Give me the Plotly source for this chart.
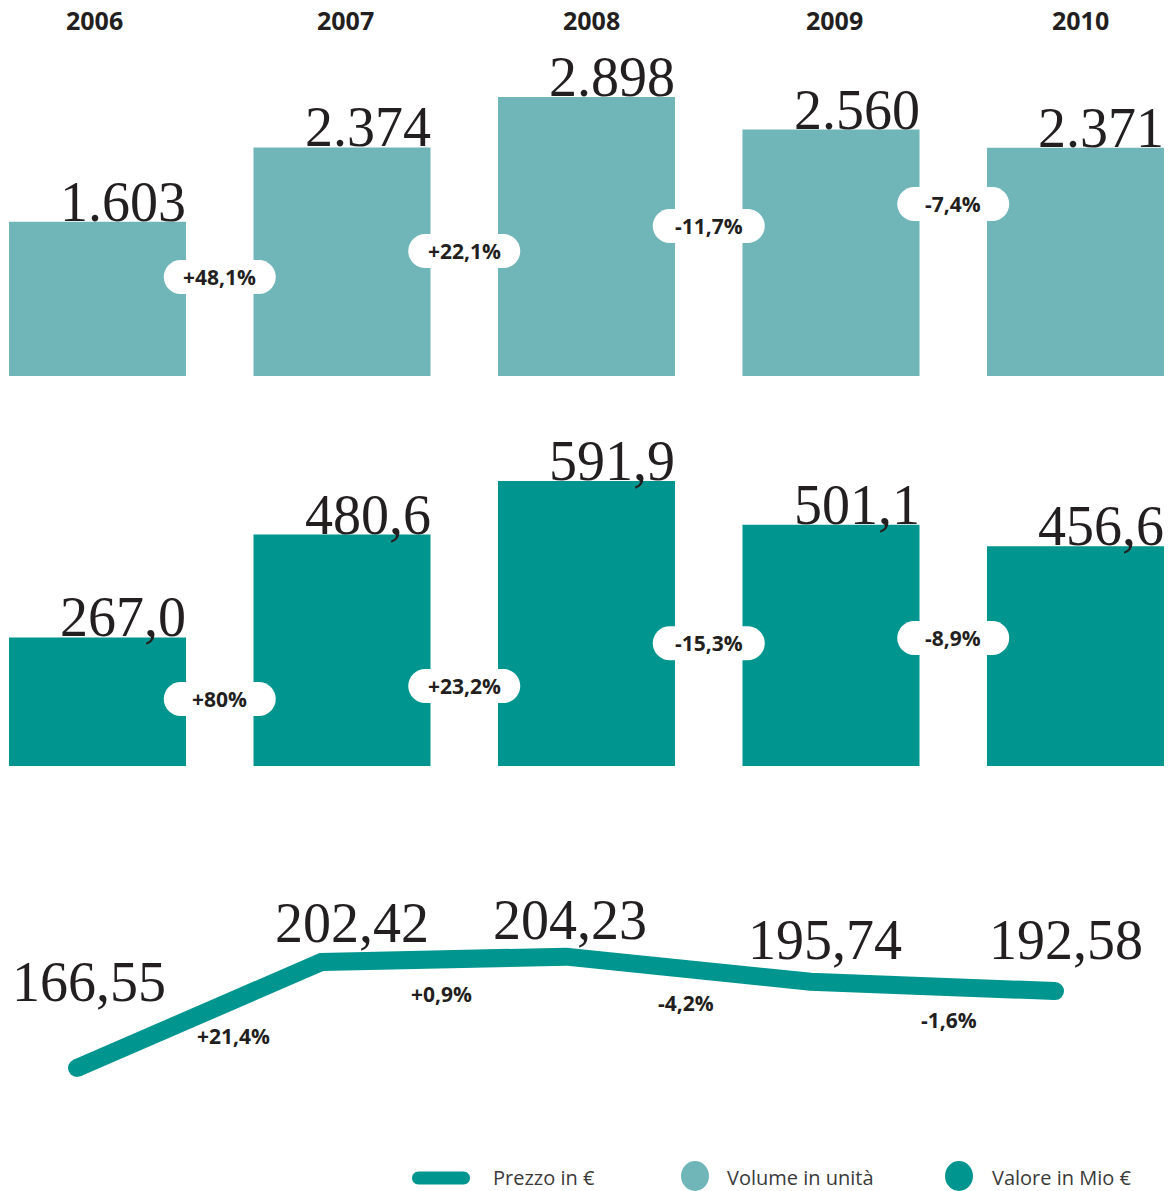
import plotly.graph_objects as go

# ---------------- data ----------------
years = ["2006", "2007", "2008", "2009", "2010"]
volume = [1603, 2374, 2898, 2560, 2371]
volume_labels = ["1.603", "2.374", "2.898", "2.560", "2.371"]
value = [267.0, 480.6, 591.9, 501.1, 456.6]
value_labels = ["267,0", "480,6", "591,9", "501,1", "456,6"]
price = [166.55, 202.42, 204.23, 195.74, 192.58]
price_labels = ["166,55", "202,42", "204,23", "195,74", "192,58"]
volume_change = ["+48,1%", "+22,1%", "-11,7%", "-7,4%"]
value_change = ["+80%", "+23,2%", "-15,3%", "-8,9%"]
price_change = ["+21,4%", "+0,9%", "-4,2%", "-1,6%"]
legend_labels = ["Prezzo in €", "Volume in unità", "Valore in Mio €"]

# ---------------- layout / style ----------------
W, H = 1171, 1191
LIGHT = "#70b6b9"
DARK = "#00958f"
INK = "#231f20"
BAR_W = 0.724
SERIF = "Liberation Serif"
SANS = "Open Sans"
NUM_SIZE = 56
DESC = -13  # shift so baseline sits on the anchor

pill_y_vol = [1028, 1298, 1558, 1787]      # pill centres (axis units)
pill_y_val = [139, 166, 255, 266]
year_dx = [-3, 3, 5, 3, 5]
price_lab_dx = [12, 30, 4, 14, 11]
price_lab_dy = [66, 19, 17, 22, 31]
price_chg_dx = [34, -2, -2, 16]
price_chg_dy = [-21, -35, -34, -34]


def py(p):
    return 1 - p / H


def pill_path(w, h):
    r = h / 2
    a = w / 2 - r
    k = 0.5523 * r
    return (f"M{-a},{-r} L{a},{-r} C{a+k},{-r} {a+r},{-k} {a+r},0 "
            f"C{a+r},{k} {a+k},{r} {a},{r} L{-a},{r} "
            f"C{-a-k},{r} {-a-r},{k} {-a-r},0 C{-a-r},{-k} {-a-k},{-r} {-a},{-r} Z")


idx = list(range(len(years)))
fig = go.Figure()

fig.add_trace(go.Bar(x=idx, y=volume, width=BAR_W, marker=dict(color=LIGHT, line=dict(width=0)),
                     xaxis="x", yaxis="y", hoverinfo="skip"))
fig.add_trace(go.Bar(x=idx, y=value, width=BAR_W, marker=dict(color=DARK, line=dict(width=0)),
                     xaxis="x", yaxis="y2", hoverinfo="skip"))
fig.add_trace(go.Scatter(x=idx, y=price, mode="lines", line=dict(color=DARK, width=18),
                         xaxis="x3", yaxis="y3", hoverinfo="skip"))
fig.add_trace(go.Scatter(x=[idx[0], idx[-1]], y=[price[0], price[-1]], mode="markers",
                         marker=dict(color=DARK, size=18), xaxis="x3", yaxis="y3", hoverinfo="skip"))

shapes = []
ann = []

# year headers
for i, yr in enumerate(years):
    ann.append(dict(x=i, y=py(20), xref="x", yref="paper", text=yr, showarrow=False,
                    xanchor="center", yanchor="middle", xshift=year_dx[i],
                    font=dict(family=SANS, size=25, color=INK, weight="bold")))

# bar value labels
for yref, vals, labs in (("y", volume, volume_labels), ("y2", value, value_labels)):
    for i, (v, t) in enumerate(zip(vals, labs)):
        ann.append(dict(x=i + BAR_W / 2, y=v, xref="x", yref=yref, text=t, showarrow=False,
                        xanchor="right", yanchor="bottom", yshift=DESC, xshift=2,
                        font=dict(family=SERIF, size=NUM_SIZE, color=INK)))

# change pills
for yref, ys, labs in (("y", pill_y_vol, volume_change), ("y2", pill_y_val, value_change)):
    for i, (yy, t) in enumerate(zip(ys, labs)):
        shapes.append(dict(type="path", xref="x", yref=yref, xsizemode="pixel", ysizemode="pixel",
                           xanchor=i + 0.5, yanchor=yy, path=pill_path(112, 34),
                           fillcolor="white", line=dict(width=0), layer="above"))
        ann.append(dict(x=i + 0.5, y=yy, xref="x", yref=yref, text=t, showarrow=False,
                        xanchor="center", yanchor="middle",
                        font=dict(family=SANS, size=21, color=INK, weight="bold")))

# price labels
for i, (v, t) in enumerate(zip(price, price_labels)):
    ann.append(dict(x=i, y=v, xref="x3", yref="y3", text=t, showarrow=False,
                    xanchor="center", yanchor="bottom", xshift=price_lab_dx[i],
                    yshift=price_lab_dy[i] + DESC,
                    font=dict(family=SERIF, size=NUM_SIZE, color=INK)))
for i, t in enumerate(price_change):
    ann.append(dict(x=i + 0.5, y=(price[i] + price[i + 1]) / 2, xref="x3", yref="y3", text=t,
                    showarrow=False, xanchor="center", yanchor="middle",
                    xshift=price_chg_dx[i], yshift=price_chg_dy[i],
                    font=dict(family=SANS, size=21, color=INK, weight="bold")))

# legend
shapes.append(dict(type="path", xref="paper", yref="paper", xsizemode="pixel", ysizemode="pixel",
                   xanchor=441 / W, yanchor=py(1178), path=pill_path(58, 13),
                   fillcolor=DARK, line=dict(width=0)))
for cx, col in ((695, LIGHT), (959, DARK)):
    shapes.append(dict(type="circle", xref="paper", yref="paper", xsizemode="pixel", ysizemode="pixel",
                       xanchor=cx / W, yanchor=py(1176), x0=-14, x1=14, y0=-15, y1=15,
                       fillcolor=col, line=dict(width=0)))
for lx, t in zip((491, 725, 990), legend_labels):
    ann.append(dict(x=lx / W, y=py(1177), xref="paper", yref="paper", text=t, showarrow=False,
                    xanchor="left", yanchor="middle",
                    font=dict(family=SANS, size=20, color="#3a3a3a")))

hidden = dict(visible=False, showgrid=False, zeroline=False, showticklabels=False, fixedrange=True)
fig.update_layout(
    width=W, height=H, margin=dict(l=0, r=0, t=0, b=0),
    paper_bgcolor="white", plot_bgcolor="white", showlegend=False, barmode="overlay",
    xaxis=dict(hidden, domain=[0, 1], range=[-0.3988, 4.3906], anchor="y"),
    yaxis=dict(hidden, domain=[py(376), py(40)], range=[0, 3490], anchor="x"),
    yaxis2=dict(hidden, domain=[py(766), py(430)], range=[0, 697.8], anchor="x"),
    xaxis3=dict(hidden, domain=[0, 1], range=[-0.3149, 4.4744], anchor="y3"),
    yaxis3=dict(hidden, domain=[py(1120), py(850)], range=[148.95, 240.32], anchor="x3"),
    shapes=shapes, annotations=ann,
)

fig.write_html("out.html", config={"displayModeBar": False},
               post_script="document.body.style.margin='0';document.body.style.overflow='hidden';")
